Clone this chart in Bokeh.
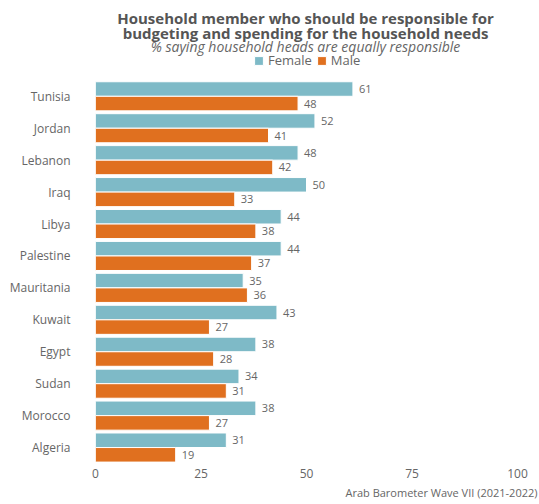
from bokeh.plotting import figure
from bokeh.models import (ColumnDataSource, Range1d, Label, LabelSet, Legend,
                          LegendItem, FixedTicker, Title)
from bokeh.core.properties import value
from bokeh.embed import file_html
from bokeh.resources import INLINE

countries = ["Tunisia", "Jordan", "Lebanon", "Iraq", "Libya", "Palestine",
             "Mauritania", "Kuwait", "Egypt", "Sudan", "Morocco", "Algeria"]
female = [61, 52, 48, 50, 44, 44, 35, 43, 38, 34, 38, 31]
male = [48, 41, 42, 33, 38, 37, 36, 27, 28, 31, 27, 19]
x_ticks = [0, 25, 50, 75, 100]

title_lines = ["Household member who should be responsible for",
               "budgeting and spending for the household needs"]
subtitle = "% saying household heads are equally responsible"
caption = "Arab Barometer Wave VII (2021-2022)"

FONT = "Open Sans"
TEAL = "#7EBAC7"
ORANGE = "#E0701F"
GRAY = "#666666"

W, H = 539, 504
LEFT, RIGHT, TOP, BOTTOM = 95, 22, 0, 41
FW = W - LEFT - RIGHT
FH = H - TOP - BOTTOM
ROW = 31.93                      # pixels per category row
n = len(countries)
pos = [n - 1 - i for i in range(n)]   # Tunisia at top
off = 0.228
bh = 0.455

src = ColumnDataSource(dict(
    y_f=[v + off for v in pos], y_m=[v - off for v in pos],
    female=female, male=male,
    female_txt=[str(v) for v in female], male_txt=[str(v) for v in male]))

p = figure(width=W, height=H, output_backend="svg", toolbar_location=None,
           x_range=Range1d(0, 100), y_range=Range1d(-0.5, -0.5 + FH / ROW),
           min_border_left=LEFT, min_border_right=RIGHT,
           min_border_top=TOP, min_border_bottom=BOTTOM)
p.outline_line_color = None
p.xgrid.grid_line_color = None
p.ygrid.grid_line_color = None

rf = p.hbar(y="y_f", right="female", left=0, height=bh, source=src,
            fill_color=TEAL, line_color="white", line_width=1)
rm = p.hbar(y="y_m", right="male", left=0, height=bh, source=src,
            fill_color=ORANGE, line_color="white", line_width=1)

for col, ycol in (("female", "y_f"), ("male", "y_m")):
    p.add_layout(LabelSet(x=col, y=ycol, text=col + "_txt", source=src, x_offset=6,
                          text_baseline="middle", text_align="left",
                          text_font_size="11px", text_color=GRAY,
                          text_font=value(FONT)))

p.xaxis.ticker = FixedTicker(ticks=x_ticks)
p.yaxis.ticker = FixedTicker(ticks=pos)
p.yaxis.major_label_overrides = {pv: c for pv, c in zip(pos, countries)}
for ax in (p.xaxis[0], p.yaxis[0]):
    ax.axis_line_color = None
    ax.major_tick_line_color = None
    ax.minor_tick_line_color = None
    ax.major_tick_out = 0
    ax.major_tick_in = 0
    ax.minor_tick_out = 0
    ax.major_label_text_font = FONT
    ax.major_label_text_font_size = "12px"
    ax.major_label_text_color = GRAY
p.xaxis.major_label_standoff = 5
p.yaxis.major_label_standoff = 25

cx = 210
p.add_layout(Label(x=cx, y=FH - 17, x_units="screen", y_units="screen",
                   text=title_lines[0], text_align="center", text_baseline="middle",
                   text_font=FONT, text_font_style="bold", text_font_size="15px",
                   text_color="#555555"))
p.add_layout(Label(x=cx, y=FH - 32, x_units="screen", y_units="screen",
                   text=title_lines[1], text_align="center", text_baseline="middle",
                   text_font=FONT, text_font_style="bold", text_font_size="15px",
                   text_color="#555555"))
p.add_layout(Label(x=cx, y=FH - 46, x_units="screen", y_units="screen",
                   text=subtitle, text_align="center", text_baseline="middle",
                   text_font=FONT, text_font_style="italic", text_font_size="14px",
                   text_color=GRAY))

p.add_layout(Title(text=caption, align="right", offset=-20, standoff=4,
                   text_font=FONT, text_font_size="11px", text_font_style="normal",
                   text_color=GRAY), "below")

legend = Legend(items=[LegendItem(label="Female", renderers=[rf]),
                       LegendItem(label="Male", renderers=[rm])],
                orientation="horizontal", location=(158, FH - 69),
                glyph_width=11, glyph_height=11, label_standoff=4, spacing=4,
                padding=0, margin=0, border_line_color=None,
                background_fill_alpha=0, label_text_font=FONT,
                label_text_font_size="13px", label_text_color=GRAY,
                label_height=14)
p.add_layout(legend)

open("out.html", "w").write(file_html(p, INLINE))
